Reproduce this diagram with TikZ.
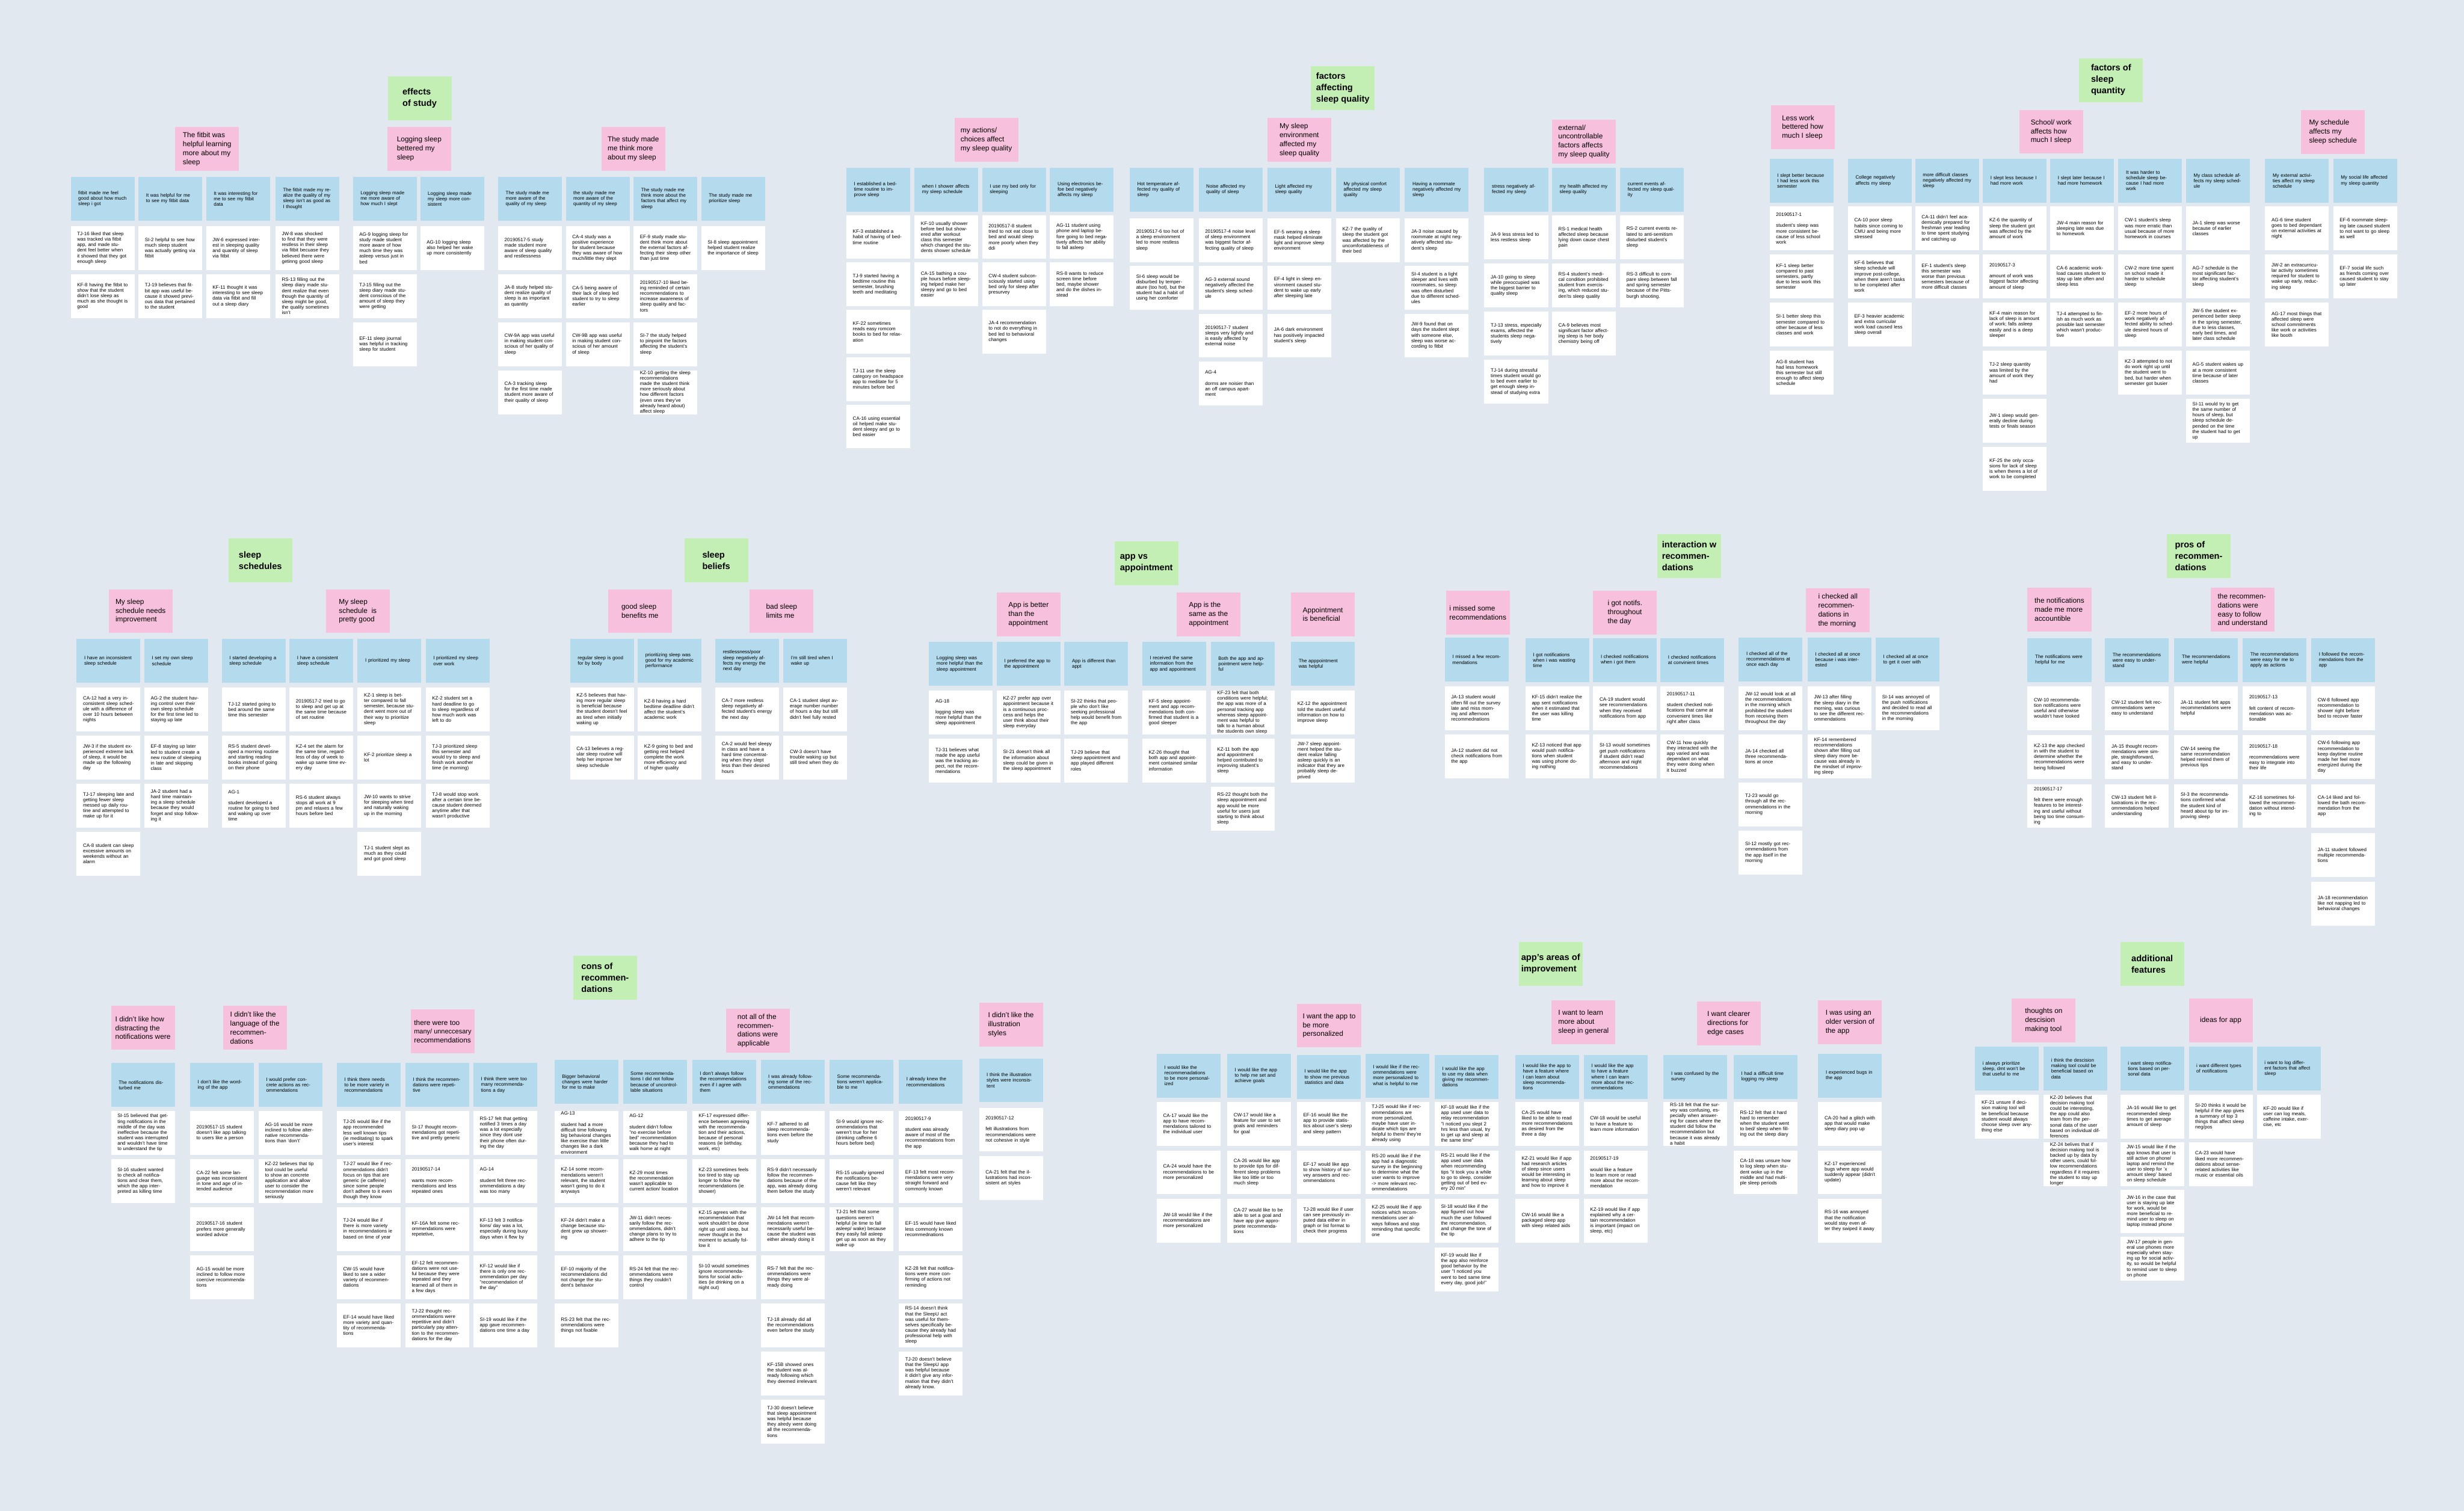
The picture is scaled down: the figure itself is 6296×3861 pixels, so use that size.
\documentclass[tikz,border=0pt]{standalone}
\usepackage{fontspec}
\setmainfont{Liberation Sans}
\usetikzlibrary{positioning}
\definecolor{boardBg}{RGB}{225,232,240}
\definecolor{themeGreen}{RGB}{196,239,180}
\definecolor{clusterPink}{RGB}{247,192,221}
\definecolor{findingBlue}{RGB}{179,219,237}

% one blue finding with its white excerpts stacked below
\newcommand\findcol[7]{%
  \node[finding] (#1) at (#2,#3) {#6};
  \foreach \q [count=\i from 0] in {#7}
    \node[excerpt] (#1-\i) at (#2,{#4+\i*#5}) {\q};
}

\begin{document}
\begin{tikzpicture}[
    x=0.1mm, y=-0.1mm,
    sticky/.style={anchor=north west, inner sep=0pt, minimum width=16.3mm, minimum height=11.2mm},
    theme/.style={sticky, fill=themeGreen, align=left, font=\fontsize{6.4}{8.3}\selectfont\bfseries},
    cluster/.style={sticky, fill=clusterPink, align=left, font=\fontsize{5.2}{6.5}\selectfont},
    finding/.style={sticky, fill=findingBlue, text width=12.4mm, align=left, font=\fontsize{3.5}{4}\selectfont},
    excerpt/.style={sticky, fill=white, text width=13mm, align=left, font=\fontsize{3.5}{4}\selectfont}
]
  \fill[boardBg] (0,0) rectangle (6296,3861);
  \useasboundingbox (0,0) rectangle (6296,3861);

  % effects of study
  \node[theme] (studyfx) at (990,194) {effects\\of study};
  \node[cluster] (fitbit) at (447,324) {The fitbit was\\helpful learning\\more about my\\sleep};
  \node[cluster] (logging) at (989,324) {Logging sleep\\bettered my\\sleep};
  \node[cluster] (thinkmore) at (1536,324) {The study made\\me think more\\about my sleep};
  \findcol{a1}{180}{451}{577}{123}{fitbit made me feel good about how much sleep i got}{{TJ-16 liked that sleep was tracked via fitbit app, and made student feel better when it showed that they got enough sleep},{KF-8 having the fitbit to show that the student didn't lose sleep as much as she thought is good}}
  \findcol{a2}{353}{451}{577}{123}{It was helpful for me to see my fitbit data}{{SI-2 helpful to see how much sleep student was actually getting via fitbit},{TJ-19 believes that fitbit app was useful because it showed previous data that pertained to the student}}
  \findcol{a3}{526}{451}{577}{123}{It was interesting for me to see my fitbit data}{{JW-6 expressed interest in sleeping quality and quantity of sleep via fitbit},{KF-11 thought it was interesting to see sleep data via fitbit and fill out a sleep diary}}
  \findcol{a4}{703}{451}{577}{123}{The fitbit made my realize the quality of my sleep isn't as good as I thought}{{JW-8 was shocked to find that they were restless in their sleep via fitbit becuase they believed there were getinng good sleep},{RS-13 filling out the sleep diary made student realize that even though the quantity of sleep might be good, the quality sometimes isn't}}
  \findcol{a5}{901}{451}{577}{123}{Logging sleep made me more aware of how much I slept}{{AG-9 logging sleep for study made student more aware of how much time they was asleep versus just in bed},{TJ-15 filling out the sleep diary made student conscious of the amount of sleep they were getting},{EF-11 sleep journal was helpful in tracking sleep for student}}
  \findcol{a6}{1073}{451}{577}{123}{Logging sleep made my sleep more consistent}{{AG-10 logging sleep also helped her wake up more consistently}}
  \findcol{a7}{1272}{451}{577}{123}{The study made me more aware of the quality of my sleep}{{20190517-5 study made student more aware of sleep quality and restlessness},{JA-8 study helped student realize quality of sleep is as important as quantity},{CW-9A app was useful in making student conscious of her quality of sleep},{CA-3 tracking sleep for the first time made student more aware of their quality of sleep}}
  \findcol{a8}{1445}{451}{577}{123}{the study made me more aware of the quantity of my sleep}{{CA-4 study was a positive experience for student because they was aware of how much/little they slept},{CA-5 being aware of their lack of sleep led student to try to sleep earlier},{CW-9B app was useful in making student conscious of her amount of sleep}}
  \findcol{a9}{1618}{451}{577}{123}{The study made me think more about the factors that affect my sleep}{{EF-9 study made student think more about the external factors affecting their sleep other than just time},{20190517-10 liked being reminded of certain recommendations to increase awareness of sleep quality and factors},{SI-7 the study helped to pinpoint the factors affecting the student's sleep},{KZ-10 getting the sleep recommendations made the student think more seriously about how different factors (even ones they've already heard about) affect sleep}}
  \findcol{a10}{1791}{451}{577}{123}{The study made me prioritize sleep}{{SI-8 sleep appointment helped student realize the importance of sleep}}

  % factors affecting sleep quality
  \node[theme] (qualityfx) at (3349,169) {factors\\affecting\\sleep quality};
  \node[cluster] (actions) at (2438,301) {my actions/\\choices affect\\my sleep quality};
  \node[cluster] (environment) at (3238,301) {My sleep\\environment\\affected my\\sleep quality};
  \node[cluster] (external) at (3965,305) {external/\\uncontrollable\\factors affects\\my sleep quality};
  \findcol{b1}{2162}{428}{549}{121}{I established a bedtime routine to improve sleep}{{KF-3 established a habit of having of bedtime routine},{TJ-9 started having a bedtime routine this semester, brushing teeth and meditating},{KF-22 sometimes reads easy romcom books to bed for relaxation},{TJ-11 use the sleep category on headspace app to meditate for 5 minutes before bed},{CA-16 using essential oil helped make student sleepy and go to bed easier}}
  \findcol{b2}{2336}{428}{549}{121}{when I shower affects my sleep schedule}{{KF-10 usually shower before bed but showered after workout class this semester which changed the students shower schedule},{CA-15 bathing a couple hours before sleeping helped make her sleepy and go to bed easier}}
  \findcol{b3}{2509}{428}{549}{121}{I use my bed only for sleeping}{{20190517-8 student tried to not eat close to bed and would sleep more poorly when they ddi},{CW-4 student subconsciously started using bed only for sleep after presurvey},{JA-4 recommendation to not do everything in bed led to behavioral changes}}
  \findcol{b4}{2682}{428}{549}{121}{Using electronics befoe bed negatively affects my sleep}{{AG-11 student using phone and laptop before going to bed negatively affects her ability to fall asleep},{RS-8 wants to reduce screen time before bed, maybe shower and do the dishes instead}}
  \findcol{b5}{2886}{428}{557}{122}{Hot temperature affected my quality of sleep}{{20190517-6 too hot of a sleep environment led to more restless sleep},{SI-6 sleep would be disburbed by temperature (too hot), but the student had a habit of using her comforter}}
  \findcol{b6}{3062}{428}{557}{122}{Noise affected my quality of sleep}{{20190517-4 noise level of sleep environment was biggest factor affecting quality of sleep},{AG-3 external sound negatively affected the student's sleep schedule},{20190517-7 student sleeps very lightly and is easily affected by external noise},{AG-4\\[4pt]dorms are noisier than an off campus apartment}}
  \findcol{b7}{3238}{428}{557}{122}{Light affected my sleep quality}{{EF-5 wearing a sleep mask helped eliminate light and improve sleep environment},{EF-4 light in sleep environment caused student to wake up early after sleeping late},{JA-6 dark environment has positively impacted student's sleep}}
  \findcol{b8}{3413}{428}{557}{122}{My physical comfort affected my sleep quality}{{KZ-7 the quality of sleep the student got was affected by the uncomfortableness of their bed}}
  \findcol{b9}{3589}{428}{557}{122}{Having a roommate negatively affected my sleep}{{JA-3 noise caused by roommate at night negatively affected student's sleep},{SI-4 student is a light sleeper and lives with roommates, so sleep was often disturbed due to different schedules},{JW-9 found that on days the student slept with someone else, sleep was worse according to fitbit}}
  \findcol{b10}{3792}{428}{550}{123}{stress negatively affected my sleep}{{JA-9 less stress led to less restless sleep},{JA-10 going to sleep while preoccupied was the biggest barrier to quality sleep},{TJ-13 stress, especially exams, affected the students sleep negatively},{TJ-14 during stressful times student would go to bed even earlier to get enough sleep instead of studying extra}}
  \findcol{b11}{3965}{428}{550}{123}{my health affected my sleep quality}{{RS-1 medical health affected sleep because lying down cause chest pain},{RS-4 student's medical condition prohibited student from exercising, which reduced studen'ts sleep quality},{CA-9 believes most significant factor affecting sleep is her body chemistry being off}}
  \findcol{b12}{4139}{428}{550}{123}{current events affected my sleep quality}{{RS-2 current events related to anti-semitism disturbed student's sleep},{RS-3 difficult to compare sleep between fall and spring semester because of the Pittsburgh shooting.}}

  % factors of sleep quantity
  \node[theme] (quantityfx) at (5312,148) {factors of\\sleep\\quantity};
  \node[cluster] (lesswork) at (4524,269) {Less work\\bettered how\\much I sleep};
  \node[cluster] (schoolwork) at (5159,280) {School/ work\\affects how\\much I sleep};
  \node[cluster] (myschedule) at (5879,281) {My schedule\\affects my\\sleep schedule};
  \findcol{c1}{4521}{405}{527}{123}{I slept better because I had less work this semester}{{20190517-1\\[4pt]student's sleep was more consistent because of less school work},{KF-1 sleep better compared to past semesters, partly due to less work this semester},{SI-1 better sleep this semester compared to other because of less classes and work},{AG-8 student has had less homework this semester but still enough to affect sleep schedule}}
  \findcol{c2}{4721}{405}{527}{123}{College negatively affects my sleep}{{CA-10 poor sleep habits since coming to CMU and being more stressed},{KF-6 believes that sleep schedule will improve post-college, when there aren't tasks to be completed after work},{EF-3 heavier academic and extra curricular work load caused less sleep overall}}
  \findcol{c3}{4893}{405}{527}{123}{more difficult classes negatively affected my sleep}{{CA-11 didn't feel academically prepared for freshman year leading to time spent studying and catching up},{EF-1 student's sleep this semester was worse than previous semesters because of more difficult classes}}
  \findcol{c4}{5066}{405}{527}{123}{I slept less because I had more work}{{KZ-6 the quantity of sleep the student got was affected by the amount of work},{20190517-3\\[4pt]amount of work was biggest factor affecting amount of sleep},{KF-4 main reason for lack of sleep is amount of work; falls asleep easily and is a deep sleeper},{TJ-2 sleep quantity was limited by the amount of work they had},{JW-1 sleep would generally decline during tests or finals season},{KF-25 the only occasions for lack of sleep is when theres a lot of work to be completed}}
  \findcol{c5}{5238}{405}{527}{123}{I slept later because I had more homework}{{JW-4 main reason for sleeping late was due to homework},{CA-6 academic workload causes student to stay up late often and sleep less},{TJ-4 attempted to finish as much work as possible last semester which wasn't productive}}
  \findcol{c6}{5412}{405}{527}{123}{It was harder to schedule sleep because I had more work}{{CW-1 student's sleep was more erratic than usual because of more homework in courses},{CW-2 more time spent on school made it harder to schedule sleep},{EF-2 more hours of work negatively affected ability to schedule desired hours of sleep},{KZ-3 attempted to not do work right up until the student went to bed, but harder when semester got busier}}
  \findcol{c7}{5585}{405}{527}{123}{My class schedule affects my sleep schedule}{{JA-1 sleep was worse because of earlier classes},{AG-7 schedule is the most significant factor affecting student's sleep},{JW-5 the student experienced better sleep in the spring semester, due to less classes, early bed times, and later class schedule},{AG-5 student wakes up at a more consistent time because of later classes},{SI-11 would try to get the same number of hours of sleep, but sleep schedule depended on the time the student had to get up}}
  \findcol{c8}{5787}{405}{527}{123}{My external activities affect my sleep schedule}{{AG-6 time student goes to bed dependant on external activities at night},{JW-2 an extracurricular activity sometimes required for student to wake up early, reducing sleep},{AG-17 most things that affected sleep were school commitments like work or activities like booth}}
  \findcol{c9}{5961}{405}{527}{123}{My social life affected my sleep quantity}{{EF-6 roommate sleeping late caused student to not want to go sleep as well},{EF-7 social life such as friends coming over caused student to stay up later}}

  % sleep schedules
  \node[theme] (schedules) at (583,1375) {sleep\\schedules};
  \node[cluster] (needsfix) at (277,1505) {My sleep\\schedule needs\\improvement};
  \node[cluster] (prettygood) at (832,1505) {My sleep\\schedule~~is\\pretty good};
  \findcol{d1}{195}{1632}{1756}{123}{I have an inconsistent sleep schedule}{{CA-12 had a very inconsistent sleep schedule with a difference of over 10 hours between nights},{JW-3 if the student experienced extreme lack of sleep, it would be made up the following day},{TJ-17 sleeping late and getting fewer sleep messed up daily routine and attempted to make up for it},{CA-8 student can sleep excessive amounts on weekends without an alarm}}
  \findcol{d2}{368}{1632}{1756}{123}{I set my own sleep schedule}{{AG-2 the student having control over their own sleep schedule for the first time led to staying up late},{EF-8 staying up later led to student create a new routine of sleeping in late and skipping class},{JA-2 student had a hard time maintaining a sleep schedule because they would forget and stop following it}}
  \findcol{d3}{566}{1632}{1756}{123}{I started developing a sleep schedule}{{TJ-12 started going to bed around the same time this semester},{RS-5 student developed a morning routine and starting reading books instead of going on their phone},{AG-1\\[4pt]student developed a routine for going to bed and waking up over time}}
  \findcol{d4}{739}{1632}{1756}{123}{I have a consistent sleep schedule}{{20190517-2 tried to go to sleep and get up at the same time because of set routine},{KZ-4 set the alarm for the same time, regardless of day of week to wake up same time every day},{RS-6 student always stops all work at 9 pm and relaxes a few hours before bed}}
  \findcol{d5}{913}{1632}{1756}{123}{I prioritized my sleep}{{KZ-1 sleep is better compared to fall semester, because student went more out of their way to prioritize sleep},{KF-2 prioritize sleep a lot},{JW-10 wants to strive for sleeping when tired and naturally waking up in the morning},{TJ-1 student slept as much as they could and got good sleep}}
  \findcol{d6}{1087}{1632}{1756}{123}{I prioritized my sleep over work}{{KZ-2 student set a hard deadline to go to sleep regardless of how much work was left to do},{TJ-3 prioritized sleep this semester and would try to sleep and finish work another time (ie morning)},{TJ-8 would stop work after a certain time because student deemed anytime after that wasn't productive}}

  % sleep beliefs
  \node[theme] (beliefs) at (1748,1375) {sleep\\beliefs};
  \node[cluster] (goodsleep) at (1553,1505) {good sleep\\benefits me};
  \node[cluster] (badsleep) at (1915,1505) {bad sleep\\limits me};
  \findcol{e1}{1456}{1632}{1756}{123}{regular sleep is good for by body}{{KZ-5 believes that having more regular sleep is beneficial because the student doesn't feel as tired when initially waking up},{CA-13 believes a regular sleep routine will help her improve her sleep schedule}}
  \findcol{e2}{1629}{1632}{1756}{123}{prioritizing sleep was good for my academic performance}{{KZ-8 having a hard bedtime deadline didn't affect the student's academic work},{KZ-9 going to bed and getting rest helped complete the work more efficiency and of higher quality}}
  \findcol{e3}{1827}{1632}{1756}{123}{restlessness/poor sleep negatively affects my energy the next day}{{CA-7 more restless sleep negatively affected student's energy the next day},{CA-2 would feel sleepy in class and have a hard time concentrating when they slept less than their desired hours}}
  \findcol{e4}{2001}{1632}{1756}{123}{I'm still tired when I wake up}{{CA-1 student slept average number number of hours a day but still didn't feel fully rested},{CW-3 doesn't have trouble waking up but still tired when they do}}

  % app vs appointment
  \node[theme] (appvsappt) at (2847,1383) {app vs\\appointment};
  \node[cluster] (appbetter) at (2546,1513) {App is better\\than the\\appointment};
  \node[cluster] (appsame) at (3006,1513) {App is the\\same as the\\appointment};
  \node[cluster] (apptgood) at (3298,1513) {Appointment\\is beneficial};
  \findcol{f1}{2373}{1640}{1764}{123}{Logging sleep was more helpful than the sleep appointment}{{AG-18\\[4pt]logging sleep was more helpful than the sleep appointment},{TJ-31 believes what made the app useful was the tracking aspect, not the recommendations}}
  \findcol{f2}{2546}{1640}{1764}{123}{I preferred the app to the appointment}{{KZ-27 prefer app over appointment because it is a continuous proccess and helps the user think about their sleep everyday},{SI-21 doesn't think all the information about sleep could be given in the sleep appointment}}
  \findcol{f3}{2719}{1640}{1764}{123}{App is different than appt}{{SI-22 thinks that people who don't like seeking professional help would benefit from the app},{TJ-29 believe that sleep appointment and app played different roles}}
  \findcol{f4}{2918}{1640}{1764}{123}{I received the same information from the app and appointment}{{KF-5 sleep appointment and app recommendations both confirmed that student is a good sleeper},{KZ-26 thought that both app and appointment contained similar information}}
  \findcol{f5}{3093}{1640}{1764}{123}{Both the app and appointment were helpful}{{KF-23 felt that both conditions were helpful; the app was more of a personal tracking app whereas sleep appointment was helpful to talk to a human about the students own sleep},{KZ-11 both the app and appointment helped contributed to improving student's sleep},{RS-22 thought both the sleep appointment and app would be more useful for users just starting to think about sleep}}
  \findcol{f6}{3298}{1640}{1764}{123}{The apppointment was helpful}{{KZ-12 the appointment told the student useful information on how to improve sleep},{JW-7 sleep appointment helped the student realize falling asleep quickly is an indicator that they are probably sleep deprived}}

  % interaction with recommendations
  \node[theme] (interaction) at (4234,1364) {interaction w\\recommen-\\dations};
  \node[cluster] (missed) at (3694,1509) {i missed some\\recommendations};
  \node[cluster] (notifs) at (4070,1509) {i got notifs.\\throughout\\the day};
  \node[cluster] (morning) at (4614,1503) {i checked all\\recommen-\\dations in\\the morning};
  \findcol{g1}{3691}{1629}{1753}{123}{I missed a few recommendations}{{JA-13 student would often fill out the survey late and miss morning and afternoon recommednations},{JA-12 student did not check notifications from the app}}
  \findcol{g2}{3897}{1630}{1753}{123}{I got notifications when i was wasting time}{{KF-15 didn't realize the app sent notifications when it estimated that the user was killing time},{KZ-13 noticed that app would push notifications when student was using phone doing nothing}}
  \findcol{g3}{4070}{1630}{1753}{123}{I checked notifications when i got them}{{CA-19 student would see recommendations when they received notifications from app},{SI-13 would sometimes get push notifications if student didn't read afternoon and night recommendations}}
  \findcol{g4}{4242}{1630}{1753}{123}{I checked notifications at convinient times}{{20190517-11\\[4pt]student checked notifications that came at convenient times like right after class},{CW-11 how quickly they interacted with the app varied and was dependant on what they were doing when it buzzed}}
  \findcol{g5}{4442}{1629}{1753}{123}{I checked all of the recommendations at once each day}{{JW-12 would look at all the recommendations in the morning which prohibited the student from receiving them throughout the day},{JA-14 checked all three recommendations at once},{TJ-23 would go through all the recommendations in the morning},{SI-12 mostly got recommendations from the app itself in the morning}}
  \findcol{g6}{4618}{1629}{1753}{123}{I checked all at once because i was interested}{{JW-13 after filling the sleep diary in the morning, was curious to see the different recommendations},{KF-14 remembered recommendations shown after filling out sleep diary more because was already in the mindset of improving sleep}}
  \findcol{g7}{4792}{1629}{1753}{123}{I checked all at once to get it over with}{{SI-14 was annoyed of the push notifications and decided to read all the recommendations in the morning}}

  % pros of recommendations
  \node[theme] (pros) at (5536,1364) {pros of\\recommen-\\dations};
  \node[cluster] (accountable) at (5180,1501) {the notifications\\made me more\\accountible};
  \node[cluster] (easyfollow) at (5648,1501) {the recommen-\\dations were\\easy to follow\\and understand};
  \findcol{h1}{5180}{1630}{1753}{125}{The notifications were helpful for me}{{CW-10 recommendation notifications were useful and otherwise wouldn't have looked},{KZ-13 the app checked in with the student to determine whether the recommendations were being followed},{20190517-17\\[4pt]felt there were enough features to be interesting and useful without being too time consuming}}
  \findcol{h2}{5378}{1630}{1753}{125}{The recommendations were easy to understand}{{CW-12 student felt recommendations were easy to understand},{JA-15 thought recommendations were simple, straightforward, and easy to understand},{CW-13 student felt illustrations in the recommendations helped understanding}}
  \findcol{h3}{5555}{1630}{1753}{125}{The recommendations were helpful}{{JA-11 student felt apps recommendations were helpful},{CW-14 seeing the same recommendation helped remind them of previous tips},{SI-3 the recommendations confirmed what the student kind of heard about tip for improving sleep}}
  \findcol{h4}{5730}{1630}{1753}{125}{The recommendations were easy for me to apply as actions}{{20190517-13\\[4pt]felt content of recommendatiosn was actionable},{20190517-18\\[4pt]recommendations were easy to integrate into their life},{KZ-16 sometimes followed the recommendation without intending to}}
  \findcol{h5}{5905}{1630}{1753}{125}{I followed the recommendations from the app}{{CW-8 followed app recommendation to shower right before bed to recover faster},{CW-6 following app recommendation to keep daytime routine made her feel more energized during the day},{CA-14 liked and followed the bath recommendation from the app},{JA-11 student followed multiple recommendations},{JA-18 recommendation like not napping led to behavioral changes}}

  % cons of recommendations
  \node[theme] (cons) at (1464,2442) {cons of\\recommen-\\dations};
  \node[cluster] (distracting) at (283,2570) {I didn't like how\\distracting the\\notifications were};
  \node[cluster] (language) at (569,2570) {I didn't like the\\language of the\\recommen-\\dations};
  \node[cluster] (toomany) at (1049,2579) {there were too\\{\fontsize{4.8}{6.5}\selectfont many/ unneccesary}\\recommendations};
  \node[cluster] (notapplicable) at (1854,2577) {not all of the\\recommen-\\dations were\\applicable};
  \node[cluster] (illustration) at (2501,2562) {I didn't like the\\illustration\\styles};
  \findcol{i1}{283}{2716}{2838}{123}{The notifications disturbed me}{{SI-15 believed that getting notifications in the middle of the day was ineffective because the student was interrupted and wouldn't have time to understand the tip},{SI-16 student wanted to check all notifications and clear them, which the app interpreted as killing time}}
  \findcol{i2}{485}{2716}{2838}{123}{I don't like the wording of the app}{{20190517-15 student doesn't like app talking to users like a person},{CA-22 felt some language was inconsistent in tone and age of intended audience},{20190517-16 student prefers more generally worded advice},{AG-15 would be more inclined to follow more coercive recommendations}}
  \findcol{i3}{660}{2716}{2838}{123}{I would prefer concrete actions as recommendations}{{AG-16 would be more inclined to follow alternative recommendations than 'don't'},{KZ-22 believes that tip tool could be useful to show an concrete application and allow user to consider the recommendation more seriously}}
  \findcol{i4}{860}{2716}{2838}{123}{I think there needs to be more variety in recommendations}{{TJ-26 would like if the app recommended less well known tips (ie meditating) to spark user's interest},{TJ-27 would like if recommendations didn't focus on tips that are generic (ie caffeine) since some people don't adhere to it even though they know},{TJ-24 would like if there is more variety in recommendations ie based on time of year},{CW-15 would have liked to see a wider variety of recommendations},{EF-14 would have liked more variety and quantity of recommendations}}
  \findcol{i5}{1035}{2716}{2838}{123}{I think the recommendations were repetitive}{{SI-17 thought recommendations got repetitive and pretty generic},{20190517-14\\[4pt]wants more recommendations and less repeated ones},{KF-16A felt some recommendations were repetetive,},{EF-12 felt recommendations were not useful because they were repeated and they learned all of them in a few days},{TJ-22 thought recommendations were repetitive and didn't particularly pay attention to the recommendations for the day}}
  \findcol{i6}{1209}{2716}{2838}{123}{I think there were too many recommendations a day}{{RS-17 felt that getting notified 3 times a day was a lot especially since they dont use their phone often during the day},{AG-14\\[4pt]student felt three recommendations a day was too many},{KF-13 felt 3 notifications/ day was a lot, especially during busy days when it flew by},{KF-12 would like if there is only one recommendation per day "recommendation of the day"},{SI-19 would like if the app gave recommendations one time a day}}
  \findcol{i7}{1416}{2708}{2838}{123}{Bigger behavioral changes were harder for me to make}{{AG-13\\[4pt]student had a more difficult time following big behavioral changes like exercise than little changes like a dark environment},{KZ-14 some recommendations weren't relevant, the student wasn't going to do it anyways},{KF-24 didn't make a change because student grew up showering},{EF-10 majority of the recommendations did not change the student's behavior},{RS-23 felt that the recommendations were things not fixable}}
  \findcol{i8}{1591}{2708}{2838}{123}{Some recommendations I did not follow because of uncontrollable situations}{{AG-12\\[4pt]student didn't follow "no exercise before bed" recommendation because they had to walk home at night},{KZ-29 most times the recommendation wasn't applicable to current action/ location},{JW-11 didn't necessarily follow the recommendations, didn't change plans to try to adhere to the tip},{RS-24 felt that the recommendations were things they couldn't control}}
  \findcol{i9}{1768}{2708}{2838}{123}{I don't always follow the recommendations even if I agree with them}{{KF-17 expressed difference between agreeing with the recommendation and their actions, because of personal reasons (ie birthday, work, etc)},{KZ-23 sometimes feels too tired to stay up longer to follow the recommendations (ie shower)},{KZ-15 agrees with the recommendation that work shouldn't be done right up until sleep, but never thought in the moment to actually follow it},{SI-10 would sometimes ignore recommendations for social activities (ie drinking on a night out)}}
  \findcol{i10}{1943}{2708}{2838}{123}{I was already following some of the recommendations}{{KF-7 adhered to all sleep recommendations even before the study},{RS-9 didn't necessarily follow the recommendations because of the app, was already doing them before the study},{JW-14 felt that recommendations weren't necessarily useful because the student was either already doing it},{RS-7 felt that the recommendations were things they were already doing},{TJ-18 already did all the recommendations even before the study},{KF-15B showed ones the student was already following which they deemed irrelevant},{TJ-30 doesn't believe that sleep appointment was helpful because they alredy were doing all the recommendations}}
  \findcol{i11}{2119}{2708}{2838}{123}{Some recommendations weren't applicable to me}{{SI-9 would ignore recommendations that weren't true for her (drinking caffeine 6 hours before bed)},{RS-15 usually ignored the notifications because felt like they weren't relevant},{TJ-21 felt that some questions weren't helpful (ie time to fall asleep/ wake) because they easily fall asleep get up as soon as they wake up}}
  \findcol{i12}{2296}{2708}{2838}{123}{I already knew the recommendations}{{20190517-9\\[4pt]student was already aware of most of the recommendations from the app},{EF-13 felt most recommendations were very straight forward and commonly known},{EF-15 would have liked less commonly known recommednations},{KZ-28 felt that notifications were more confirming of actions not reminding},{RS-14 doesn't think that the SleepU act was useful for themselves specifically because they already had professional help with sleep},{TJ-20 doesn't believe that the SleepU app was helpful because it didn't give any information that they didn't already know.}}
  \findcol{i13}{2501}{2704}{2830}{124}{I think the illustration styles were inconsistent}{{20190517-12\\[4pt]felt illustrations from recommendations were not cohesive in style},{CA-21 felt that the illustrations had inconsistent art styles}}

  % app's areas of improvement
  \node[theme] (improve) at (3880,2406) {app's areas of\\improvement};
  \node[cluster] (personal) at (3314,2564) {I want the app to\\be more\\personalized};
  \node[cluster] (learnmore) at (3964,2556) {I want to learn\\more about\\sleep in general};
  \node[cluster] (edgecases) at (4335,2559) {I want clearer\\directions for\\edge cases};
  \node[cluster] (oldversion) at (4645,2556) {I was using an\\older version of\\the app};
  \findcol{j1}{2955}{2692}{2815}{124}{I would like the recommenadations to be more personalized}{{CA-17 would like the app to have recommendations tailored to the individual user},{CA-24 would have the recommendations to be more personalized},{JW-18 would like if the recommendations are more personalized}}
  \findcol{j2}{3135}{2692}{2815}{124}{I would like the app to help me set and achieve goals}{{CW-17 would like a feature for user to set goals and reminders for goal},{CA-26 would like app to provide tips for different sleep problems like too little or too much sleep},{CA-27 would like to be able to set a goal and have app give appropriete recommendations}}
  \findcol{j3}{3313}{2695}{2815}{124}{I would like the app to show me previous statistics and data}{{EF-16 would like the app to provide statistics about user's sleep and sleep pattern},{EF-17 would like app to show history of survey answers and recommendations},{TJ-28 would like if user can see previously inputed data either in graph or list format to check their progress}}
  \findcol{j4}{3488}{2692}{2815}{124}{I would like if the recommendations were more personalized to what is helpful to me}{{TJ-25 would like if recommendations are more personalized, maybe have user indicate which tips are helpful to them/ they're already using},{RS-20 would like if the app had a diagnostic survey in the beginning to determine what the user wants to improve -> more relevant recommendatations},{KZ-25 would like if app notices which recommendations user always follows and stop reminding that specific one}}
  \findcol{j5}{3665}{2695}{2815}{124}{I would like the app to use my data when giving me recommendations}{{KF-18 would like if the app used user data to relay recommendation "I noticed you slept 2 hrs less than usual, try to get up and sleep at the same time"},{RS-21 would like if the app used user data when recommending tips "it took you a while to go to sleep, consider getting out of bed every 20 min"},{SI-18 would like if the app figured out how much the user followed the recommendation, and change the tone of the tip},{KF-19 would like if the app also reinforce good behavior by the user "I noticed you went to bed same time every day, good job!"}}
  \findcol{j6}{3871}{2695}{2815}{124}{I would like the app to have a feature where I can learn about sleep recommendations}{{CA-25 would have liked to be able to read more recommendations as desired from the three a day},{KZ-21 would like if app had research articles of sleep since users would be interesting in learning about sleep and how to improve it},{CW-16 would like a packaged sleep app with sleep related aids}}
  \findcol{j7}{4046}{2695}{2815}{124}{I would like the app to have a feature where I can learn more about the recommendations}{{CW-18 would be useful to have a feature to learn more information},{20190517-19\\[4pt]would like a feature to learn more or read more about the recommendation},{KZ-19 would like if app explained why a certain recommendation is important (impact on sleep, etc)}}
  \findcol{j8}{4250}{2695}{2815}{124}{I was confused by the survey}{{RS-18 felt that the survey was confusing, especially when answering for cases where the student did follow the recommendation but because it was already a habit}}
  \findcol{j9}{4429}{2695}{2815}{124}{I had a difficult time logging my sleep}{{RS-12 felt that it hard hard to remember when the student went to bed/ sleep when filling out the sleep diary},{CA-18 was unsure how to log sleep when student woke up in the middle and had multiple sleep periods}}
  \findcol{j10}{4645}{2692}{2815}{124}{I experienced bugs in the app}{{CA-20 had a glitch with app that would make sleep diary pop up},{KZ-17 experienced bugs where app would suddenly appear (didn't update)},{RS-16 was annoyed that the notification would stay even after they swiped it away}}

  % additional features
  \node[theme] (features) at (5417,2407) {additional\\features};
  \node[cluster] (dmtool) at (5140,2551) {thoughts on\\descision\\making tool};
  \node[cluster] (ideas) at (5592,2551) {ideas for app};
  \findcol{k1}{5046}{2674}{2797}{121}{i always prioritize sleep, dmt won't be that useful to me}{{KF-21 unsure if decision making tool will be beneficial because student would always choose sleep over anything else}}
  \findcol{k2}{5221}{2674}{2797}{121}{i think the descision making tool could be beneficial based on data}{{KZ-20 believes that decision making tool could be interesting, the app could also learn from the personal data of the user based on individual differences},{KZ-24 belives that if decision making tool is backed up by data by other users, could follow recommendations regardless if it requires the student to stay up longer}}
  \findcol{k3}{5417}{2674}{2797}{121}{i want sleep notifications based on personal data}{{JA-16 would like to get recommended sleep times to get average amount of sleep},{JW-15 would like if the app knows that user is still active on phone/ laptop and remind the user to sleep for 'x amount sleep' based on sleep schedule},{JW-16 in the case that user is staying up late for work, would be more beneficial to remind user to sleep on laptop instead phone},{JW-17 people in general use phones more especially when staying up for social activity, so would be helpful to remind user to sleep on phone}}
  \findcol{k4}{5592}{2674}{2797}{121}{i want different types of notifications}{{SI-20 thinks it would be helpful if the app gives a summary of top 3 things that affect sleep neg/pos},{CA-23 would have liked more recommendations about sense-related activities like music or essential oils}}
  \findcol{k5}{5766}{2674}{2797}{121}{i want to log different factors that affect sleep}{{KF-20 would like if user can log meals, caffeine intake, exercise, etc}}
\end{tikzpicture}
\end{document}
